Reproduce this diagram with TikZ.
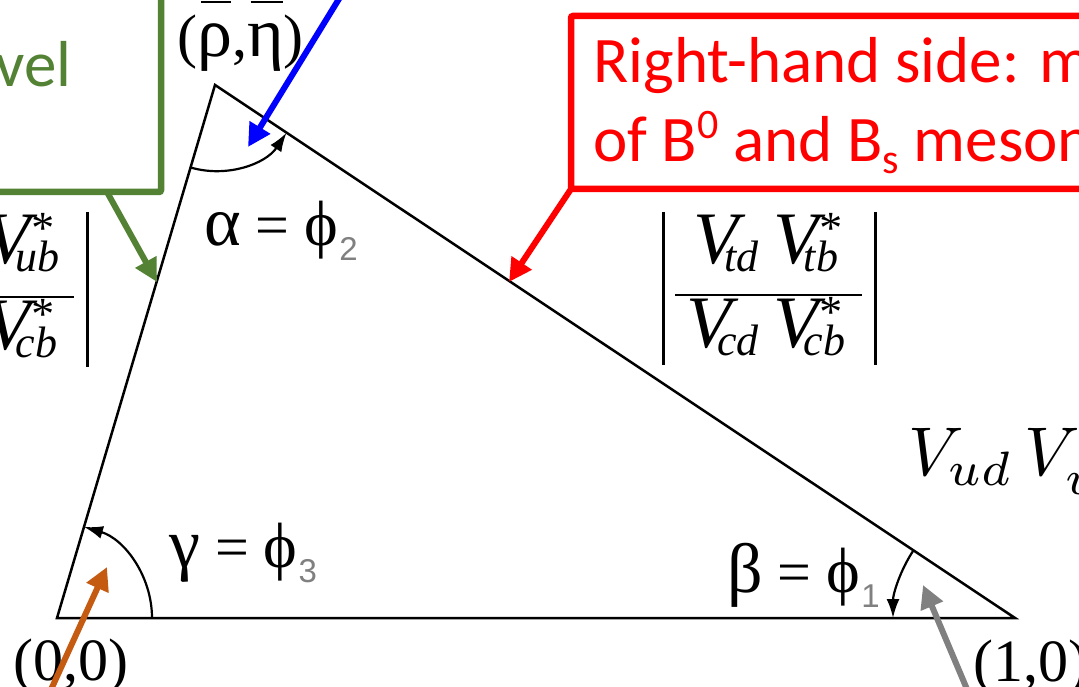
\documentclass[tikz,border=0pt]{standalone}
\usepackage{fontspec}
\usepackage{graphicx}
\usetikzlibrary{arrows.meta}
\newfontfamily\calfont{Carlito}
\newfontfamily\tnr{Liberation Serif}
\newfontfamily\arialf{Liberation Sans}
\definecolor{pgreen}{HTML}{548235}
\definecolor{pbrown}{HTML}{C55A11}
\definecolor{pgrey}{HTML}{808080}
% V with subscript #1 and superscript #2 (text italic, Times-like)
\newcommand\VS[2]{V\rlap{\kern-0.02em\raisebox{0.26em}{\fontsize{46}{46}\selectfont #2}}\kern-0.2em\raisebox{-0.12em}{\fontsize{44}{44}\selectfont #1}}
\newcommand\gsub[1]{\kern1pt\raisebox{-15pt}{\arialf\color{pgrey}\fontsize{33}{33}\selectfont #1}}
\newcommand\gk[1]{{\fontsize{70}{70}\selectfont #1}}
\newcommand\gphi{{\fontsize{64}{64}\selectfont ϕ}}
\newcommand\obar[1]{\setbox0\hbox{#1}\rlap{\kern0.06em\raisebox{0.9em}{\rule{\dimexpr\wd0-0.08em\relax}{2pt}}}\box0}
\begin{document}
\begin{tikzpicture}[x=1pt,y=-1pt,
  tri/.style={line width=2.5pt, black, line join=miter},
  angarc/.style={line width=2.2pt, -{Latex[length=19pt,width=13pt]}},
  callout/.style={line width=6pt, -{Triangle[length=23pt,width=23pt]}},
  box/.style={draw, line width=6.5pt, rounded corners=2pt, outer sep=0pt, inner sep=0pt},
  lab/.style={font=\tnr\fontsize{60}{60}\selectfont, inner sep=0pt, anchor=base west},
  frac/.style={font=\tnr\itshape\fontsize{74}{74}\selectfont, inner sep=0pt, anchor=base},
  ptext/.style={font=\calfont\fontsize{65}{78}\selectfont, inner sep=0pt, anchor=base west},
]
\useasboundingbox (0,0) rectangle (1079,687);
\fill[white] (0,0) rectangle (1079,687);

% triangle
\coordinate (O) at (57,618);
\coordinate (T) at (215,85);
\coordinate (R) at (1015,618);
\draw[tri] (O) -- (T) -- (R) -- cycle;

% angle arcs
\draw[angarc] ([shift={(106.5:86)}]T) arc (106.5:33.7:86);
\draw[angarc] ([shift={(0:95)}]O) arc (0:-73.5:95);
\draw[angarc] ([shift={(213.7:122)}]R) arc (213.7:180:122);

% vertex labels
\node[lab] (pe) at (177,57) {(\obar{\gk{ρ}},\obar{\gk{η}})};
\node[lab] (o0) at (13,680) {(0,0)};
\node[lab] (o1) at (973,681) {(1,0)};

% angle labels
\node[lab] (al) at (204,245) {\gk{α} = \gphi\gsub{2}};
\node[lab] (ga) at (169,567) {\gk{γ} = \gphi\gsub{3}};
\node[lab] (be) at (727,592) {\gk{β} = \gphi\gsub{1}};

% right side fraction
\node[frac] (rn) at (766,263) {\VS{td}{}\hspace{0.2em}\VS{tb}{*}};
\node[frac] (rd) at (766,347) {\VS{cd}{}\hspace{0.2em}\VS{cb}{*}};
\draw[line width=2.5pt] (675,295) -- (862,295);
\draw[line width=3pt] (663,212) -- (663,365) (875,212) -- (875,365);

% left side fraction
\begin{scope}[xshift=-788pt]
\node[frac] (ln) at (766,263) {\VS{ud}{}\hspace{0.2em}\VS{ub}{*}};
\node[frac] (ld) at (766,349) {\VS{cd}{}\hspace{0.2em}\VS{cb}{*}};
\draw[line width=2.5pt] (675,297) -- (862,297);
\draw[line width=3pt] (663,212) -- (663,367) (875,212) -- (875,367);
\end{scope}

% base label
\node[anchor=base west, inner sep=0pt] (vud) at (908,475) {\scalebox{6.9}{$V_{ud}\,V_{ub}^*$}};

% green callout
\node[box, draw=pgreen, minimum width=561pt, minimum height=252pt, anchor=south east] (gbox) at (161,192) {};
\node[ptext, text=pgreen, anchor=base east] (gtext) at (72,87) {level};
\coordinate (gtip) at (157,282);
\draw[callout, pgreen] ([xshift=-54pt]gbox.south east) -- (gtip);

% red callout
\node[box, draw=red, minimum width=700pt, minimum height=173pt, anchor=north west] (rbox) at (571,16) {};
\node[ptext, text=red] (rt1) at (593,83) {Right-hand side: mixing};
\node[ptext, text=red] (rt2) at (593,162) {of B\raisebox{0.36em}{\fontsize{42}{42}\selectfont 0} and B\raisebox{-0.17em}{\fontsize{42}{42}\selectfont s} mesons};
\coordinate (rtip) at (509,282);
\draw[callout, red] (rbox.south west) -- (rtip);

% blue arrow
\coordinate (bstart) at (342,-6);
\coordinate (btip) at (248,147);
\draw[callout, blue] (bstart) -- (btip);

% brown arrow
\coordinate (ostart) at (49,694);
\coordinate (otip) at (107,567);
\draw[callout, pbrown] (ostart) -- (otip);

% grey arrow
\coordinate (ystart) at (969,694);
\coordinate (ytip) at (923,585);
\draw[callout, pgrey] (ystart) -- (ytip);
\end{tikzpicture}
\end{document}
